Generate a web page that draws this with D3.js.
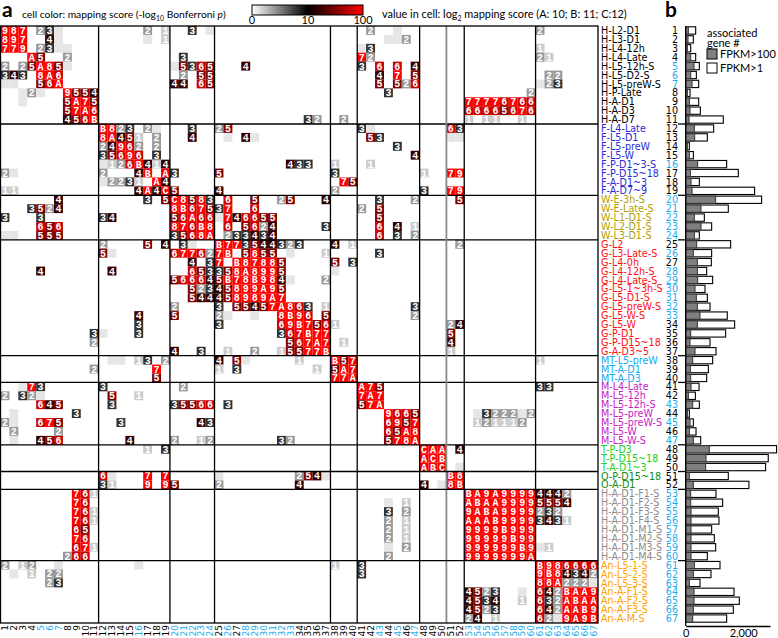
<!DOCTYPE html>
<html>
<head>
<meta charset="utf-8">
<script src="https://cdn.jsdelivr.net/npm/d3@7"></script>
<style>
  body { margin: 0; background: #fff; }
  svg { display: block; }
</style>
</head>
<body>
<div id="chart"></div>
<script>
// row / column names (same order on both axes)
const rowLabels = [
  "H-L2-D1","H-L3-D1","H-L4-12h","H-L4-Late","H-L5-12h-S","H-L5-D2-S","H-L5-preW-S","H-P-Late","H-A-D1","H-A-D3","H-A-D7",
  "F-L4-Late","F-L5-D1","F-L5-preW","F-L5-W","F-P-D1~3-S","F-P-D15~18","F-A-D1~3","F-A-D7~9",
  "W-E-3h-S","W-E-Late-S","W-L1-D1-S","W-L2-D1-S","W-L3-D1-S",
  "G-L2","G-L3-Late-S","G-L4-0h","G-L4-12h-S","G-L4-Late-S","G-L5-1~3h-S","G-L5-D1-S","G-L5-preW-S","G-L5-W-S","G-L5-W","G-P-D1","G-P-D15~18","G-A-D3~5",
  "MT-L5-preW","MT-A-D1","MT-A-D3",
  "M-L4-Late","M-L5-12h","M-L5-12h-S","M-L5-preW","M-L5-preW-S","M-L5-W","M-L5-W-S",
  "T-P-D3","T-P-D15~18","T-A-D1~3",
  "O-P-D15~18","O-A-D1",
  "H-A-D1-F1-S","H-A-D1-F2-S","H-A-D1-F3-S","H-A-D1-F4-S","H-A-D1-M1-S","H-A-D1-M2-S","H-A-D1-M3-S","H-A-D1-M4-S",
  "An-L5-1-S","An-L5-2-S","An-L5-3-S","An-A-F1-S","An-A-F2-S","An-A-F3-S","An-A-M-S"
];
const groupSizes  = [11, 8, 5, 13, 3, 7, 3, 2, 8, 7];
const groupColors = ["#000000","#2b2bd6","#b3a000","#ff1010","#18a8ee","#c820c8","#22d022","#128a12","#8c8c8c","#ffa200"];
// ids printed in light blue
const blueIds = [5,6,7,16,20,21,22,23,24,26,28,29,30,31,32,33,43,45,47,53,54,55,56,57,58,59,60,61,62,63,64,65,66,67];

// value in cell, per row: "col:log2 score" (A=10, B=11, C=12, "." = faint, no label)
const cellValues = [
  "1:9 2:8 3:7 5:2 6:3 7:. 17:2 19:1 22:3 24:. 42:2 45:. 61:2",
  "1:8 2:9 3:7 6:4 7:. 17:. 19:1 44:. 45:. 46:2",
  "1:7 2:7 3:9 5:2 6:3 7:. 8:. 41:. 42:3 61:1",
  "4:A 5:5 8:2 21:3 41:7 42:2 61:2 62:1",
  "1:2 3:2 4:5 5:A 6:8 7:5 8:. 20:. 21:5 22:3 23:6 24:5 28:4 41:3 43:6 45:6 47:4",
  "1:3 2:4 3:3 5:8 6:A 7:6 21:2 23:5 24:5 43:4 45:7 47:5 62:2 63:2",
  "1:. 2:. 5:5 6:6 7:A 20:4 21:4 23:6 24:5 43:5 45:5 46:2 47:6 61:. 62:2 63:3",
  "3:. 4:2 5:. 8:9 9:5 10:5 11:4 44:3 60:2",
  "3:. 8:5 9:A 10:7 11:5 53:7 54:7 55:7 56:7 57:6 58:7 59:6 60:6",
  "8:5 9:7 10:A 11:6 53:6 54:6 55:6 56:6 57:5 58:6 59:7 60:6",
  "8:4 9:5 10:6 11:B 35:3 36:2 39:2 53:1 55:1 56:1 59:1",
  "12:B 13:8 14:2 15:3 17:2 18:. 22:3 25:2 26:5 41:3 42:. 51:6 52:3",
  "12:8 13:A 14:4 15:5 16:1 18:2 22:4 26:. 28:4 29:. 42:5 43:3 51:. 52:.",
  "12:2 13:4 14:9 15:6 16:2 18:2 45:3",
  "12:3 13:5 14:6 15:9 16:6 18:3 47:4",
  "12:. 13:1 14:2 15:6 16:B 17:4 18:1 19:4 33:4 34:3 35:3 38:1 42:1",
  "1:2 2:. 12:2 16:4 17:B 19:A 20:3 25:5 38:3 48:1 51:7 52:9",
  "12:. 13:2 14:2 15:3 16:1 18:A 19:4 39:7 40:5",
  "1:1 2:1 16:4 17:A 18:4 19:C 20:5 25:4 38:2 48:3 51:7 52:9",
  "7:4 17:3 19:5 20:C 21:8 22:5 23:8 24:3 26:6 29:5 32:2 33:5 37:4 43:3 47:2 52:5",
  "4:3 5:5 6:2 7:4 20:8 21:B 22:6 23:7 24:5 25:3 26:7 29:6 41:2 43:5",
  "1:3 5:3 12:3 13:4 20:5 21:6 22:A 23:6 24:6 25:. 26:7 27:4 28:6 29:6 30:5 31:5 43:5",
  "5:6 6:5 7:6 20:8 21:7 22:6 23:B 24:8 26:6 28:5 29:6 30:2 31:4 37:3 43:6 45:4 47:1",
  "1:. 2:. 5:5 6:5 7:5 20:3 21:5 22:6 23:8 24:A 26:2 27:3 28:3 29:4 30:3 31:4 43:6 45:3 47:2",
  "12:2 17:5 19:4 21:3 22:. 25:B 26:7 27:7 28:3 29:5 30:4 31:4 32:3 33:2 34:3 38:4 40:1 52:2",
  "12:5 13:. 20:6 21:7 22:7 23:6 24:2 25:7 26:B 28:5 29:8 30:5 31:5 33:. 37:1 43:3",
  "22:4 24:3 25:7 27:B 28:8 29:7 30:8 31:8 32:5 38:5 40:3",
  "5:4 13:4 22:6 23:5 24:3 25:3 26:5 27:8 28:A 29:8 30:9 31:9 32:5 38:.",
  "20:5 21:6 22:6 23:6 24:4 25:5 26:B 27:7 28:8 29:B 30:9 31:8 32:4 33:. 37:2",
  "22:5 23:2 24:3 25:4 26:5 27:8 28:9 29:9 30:A 31:9 32:5",
  "22:5 23:4 24:4 25:4 26:5 27:8 28:9 29:8 30:9 31:A 32:7",
  "20:2 25:3 27:5 28:5 29:4 30:5 31:7 32:A 33:8 34:6 35:3 37:1 47:3",
  "16:4 20:5 25:2 26:. 29:. 32:8 33:B 34:9 35:6 37:5 47:2",
  "16:3 25:3 32:6 33:9 34:B 35:7 36:5 37:6 38:1 51:2 52:4",
  "11:3 12:. 16:3 32:3 33:6 34:7 35:B 36:7 37:7 51:5",
  "11:2 33:5 34:6 35:7 36:A 37:7 39:1 51:4",
  "20:4 23:3 26:1 29:2 32:1 33:5 34:5 35:7 36:7 37:B 51:1",
  "13:. 14:. 16:1 17:3 19:2 25:4 27:5 28:. 34:1 38:B 39:5 40:7 61:1",
  "11:2 18:7 25:1 27:3 36:1 38:5 39:A 40:7",
  "18:5 38:7 39:7 40:A",
  "3:. 4:7 5:3 12:3 21:2 41:A 42:7 43:5 61:3 62:3",
  "1:2 3:3 4:2 5:. 13:5 16:1 41:7 42:A 43:7",
  "5:6 6:4 7:5 13:3 20:3 21:5 22:5 23:6 24:6 26:3 41:5 42:7 43:A",
  "2:. 9:3 44:9 45:6 46:6 47:5 54:. 55:3 56:2 57:2 58:2 59:. 60:2",
  "1:2 2:. 5:6 6:7 7:5 14:3 23:4 24:3 44:6 45:9 46:5 47:7 54:1 55:2 56:1 57:1 58:1 59:2",
  "2:2 7:2 44:6 45:5 46:A 47:8",
  "2:. 5:4 6:5 7:6 15:4 20:2 23:1 24:2 32:3 33:2 44:5 45:7 46:8 47:A",
  "17:1 19:3 48:C 49:A 50:A 52:4",
  "48:A 49:C 50:B",
  "48:A 49:B 50:C 52:.",
  "12:6 13:. 17:7 19:7 25:. 34:2 35:5 36:4 37:. 51:B 52:8",
  "12:3 13:1 17:9 19:9 20:5 25:2 34:4 48:4 50:. 51:8 52:B",
  "9:7 10:6 11:1 53:B 54:A 55:9 56:A 57:9 58:9 59:9 60:9 61:4 62:4 63:4 64:2",
  "9:7 10:6 44:. 46:1 53:A 54:B 55:A 56:A 57:9 58:9 59:9 60:9 61:5 62:5 63:5 64:4",
  "9:7 10:6 11:1 44:3 46:2 53:9 54:A 55:B 56:A 57:9 58:9 59:9 60:9 61:2 62:3 63:2",
  "9:7 10:6 11:1 44:2 46:1 53:A 54:A 55:A 56:B 57:9 58:9 59:9 60:9 61:3 62:4 63:3 64:1",
  "9:6 10:5 44:2 46:1 53:9 54:9 55:9 56:9 57:B 58:9 59:9 60:9",
  "9:7 10:6 44:2 46:1 53:9 54:9 55:9 56:9 57:9 58:B 59:9 60:9",
  "9:6 10:7 11:1 44:. 46:2 53:9 54:9 55:9 56:9 57:9 58:9 59:B 60:9 61:. 62:1",
  "8:2 9:6 10:6 44:2 53:9 54:9 55:9 56:9 57:9 58:9 59:9 60:A",
  "1:2 3:1 4:2 7:. 16:. 38:1 41:3 61:B 62:9 63:8 64:6 65:6 66:6 67:6",
  "2:. 4:1 6:2 7:2 41:3 61:9 62:B 63:8 64:4 65:3 66:4 67:2",
  "6:2 7:3 61:8 62:8 63:A 64:2 65:2 66:2 67:.",
  "53:4 54:5 55:2 56:3 59:. 61:6 62:4 63:2 64:B 65:A 66:A 67:9",
  "53:4 54:5 55:3 56:4 59:1 61:6 62:3 63:2 64:A 65:B 66:A 67:A",
  "53:4 54:5 55:2 56:3 61:6 62:4 63:2 64:A 65:A 66:B 67:9",
  "53:2 54:4 56:1 61:6 62:2 63:. 64:9 65:A 66:9 67:B"
];

// panel b: associated gene numbers
const genesFpkm100 = [93,81,58,174,289,174,220,58,127,150,116, 301,312,58,127,416,162,185,220,
  1041,532,301,532,301, 382,266,405,405,416,324,370,405,497,405,174,150,324,
  243,162,174, 185,93,243,58,150,127,266, 821,706,694, 127,266,
  174,174,185,185,185,185,185,185, 301,266,127,289,289,266,243];
const genesFpkm1 = [347,266,174,347,474,370,451,150,451,509,1307, 972,752,127,266,1423,1828,474,2395,
  2638,1481,648,902,474, 1562,902,891,729,937,671,752,845,1446,1701,1388,845,1053,
  937,787,729, 463,336,474,127,266,359,521, 3159,2869,2777, 1481,2198,
  1053,1284,1134,1157,902,995,1041,752, 1192,879,497,1678,1863,1655,1423];
const barTicks = [0, 2000];
const legendTicks = [0, 10, 100];

const W = 778, H = 638;
const font = "Lato, 'Liberation Sans', sans-serif";
const labelFont = "'DejaVu Sans', sans-serif";
const svg = d3.select("#chart").append("svg")
    .attr("width", W).attr("height", H)
    .attr("viewBox", [0, 0, W, H])
    .style("font-family", font);

const ids = d3.range(1, rowLabels.length + 1);
const x = d3.scaleBand().domain(ids).range([0.5, 598]);
const y = d3.scaleBand().domain(ids).range([26, 623]);

// group of each id, boundaries
const groupOf = [];
groupSizes.forEach((n, g) => { for (let i = 0; i < n; i++) groupOf.push(g); });
const bounds = d3.cumsum(groupSizes).slice(0, -1);

// colour: score = 2^v ; 0..10 white->black, 10..100 black->red
const lowColor = d3.scaleLinear().domain([0, 10]).range(["#ffffff", "#000000"]);
const highColor = d3.scaleLog().domain([10, 100]).range(["#000000", "#ff0000"]).clamp(true);
const cellColor = s => s <= 10 ? lowColor(s) : highColor(s);

const digit = { A: 10, B: 11, C: 12 };
const cells = [];
cellValues.forEach((str, i) => {
  str.split(" ").forEach(tok => {
    const [c, v] = tok.split(":");
    const val = v === "." ? 0 : (digit[v] !== undefined ? digit[v] : +v);
    cells.push({ row: i + 1, col: +c, v: val, label: v === "." ? "" : v });
  });
});

// cells
const cg = svg.append("g");
cg.selectAll("rect").data(cells).join("rect")
    .attr("x", d => x(d.col))
    .attr("y", d => y(d.row))
    .attr("width", x.bandwidth())
    .attr("height", y.bandwidth())
    .attr("fill", d => cellColor(Math.pow(2, d.v)));
cg.selectAll("text").data(cells.filter(d => d.label)).join("text")
    .attr("x", d => x(d.col) + x.bandwidth() / 2)
    .attr("y", d => y(d.row) + y.bandwidth() / 2 + 3.5)
    .attr("text-anchor", "middle")
    .attr("fill", "#fff")
    .attr("font-family", "'Liberation Mono', 'DejaVu Sans Mono', monospace")
    .attr("font-weight", "bold")
    .attr("font-size", 10)
    .text(d => d.label);

// group lines
const lg = svg.append("g").attr("fill", "none");
bounds.forEach(b => {
  const px = x(b) + x.bandwidth();
  const py = y(b) + y.bandwidth();
  lg.append("line").attr("x1", px).attr("x2", px).attr("y1", y.range()[0]).attr("y2", y.range()[1])
    .attr("stroke", b === 50 ? "#8a8a8a" : "#000").attr("stroke-width", b === 50 ? 1.8 : 1.3);
  lg.append("line").attr("x1", x.range()[0]).attr("x2", x.range()[1]).attr("y1", py).attr("y2", py)
    .attr("stroke", "#000").attr("stroke-width", 1.3);
  lg.append("line").attr("x1", 678).attr("x2", 686).attr("y1", py).attr("y2", py)
    .attr("stroke", "#000").attr("stroke-width", 1.3);
});
lg.append("rect").attr("x", x.range()[0]).attr("y", y.range()[0])
    .attr("width", x.range()[1] - x.range()[0]).attr("height", y.range()[1] - y.range()[0])
    .attr("stroke", "#000").attr("stroke-width", 1.3);

// row labels and numbers
svg.append("g").attr("font-family", labelFont).attr("font-size", 9.6)
  .selectAll("text").data(ids).join("text")
    .attr("x", 601)
    .attr("y", d => y(d) + y.bandwidth() / 2 + 3.6)
    .attr("fill", d => groupColors[groupOf[d - 1]])
    .text(d => rowLabels[d - 1]);
svg.append("g").attr("font-family", labelFont).attr("font-size", 9.6)
  .selectAll("text").data(ids).join("text")
    .attr("x", 678)
    .attr("y", d => y(d) + y.bandwidth() / 2 + 3.6)
    .attr("text-anchor", "end")
    .attr("fill", d => blueIds.includes(d) ? "#1aaef0" : "#000")
    .text(d => d);

// column numbers
svg.append("g").attr("font-family", labelFont).attr("font-size", 9)
  .selectAll("text").data(ids).join("text")
    .attr("transform", d => `translate(${x(d) + x.bandwidth() / 2 + 3.3},625) rotate(-90)`)
    .attr("text-anchor", "end")
    .attr("fill", d => blueIds.includes(d) ? "#1aaef0" : "#000")
    .text(d => d);

// panel b bars
const xb = d3.scaleLinear().domain([0, 2930]).range([685.7, 770]);
const yb = d3.scaleBand().domain(ids).range(y.range()).paddingInner(0.18).paddingOuter(0.09);
const bg = svg.append("g");
bg.selectAll(".w").data(ids).join("rect").attr("class", "w")
    .attr("x", xb(0)).attr("y", d => yb(d))
    .attr("width", d => xb(genesFpkm1[d - 1]) - xb(0)).attr("height", yb.bandwidth())
    .attr("fill", "#fff").attr("stroke", "#000").attr("stroke-width", 1.1);
bg.selectAll(".g").data(ids).join("rect").attr("class", "g")
    .attr("x", xb(0)).attr("y", d => yb(d))
    .attr("width", d => xb(genesFpkm100[d - 1]) - xb(0)).attr("height", yb.bandwidth())
    .attr("fill", "#7f7f7f").attr("stroke", "#333").attr("stroke-width", 1);
svg.append("line").attr("x1", xb(0)).attr("x2", xb(0)).attr("y1", 26).attr("y2", 626)
    .attr("stroke", "#000").attr("stroke-width", 1.3);
svg.append("g").attr("transform", "translate(0,626)")
    .call(d3.axisBottom(xb).tickValues(barTicks).tickFormat(d3.format(",")).tickSize(0).tickPadding(3))
    .call(g => g.select(".domain").attr("stroke-width", 1.3))
    .call(g => g.selectAll("text").attr("font-size", 11).attr("font-family", font));

// panel b legend
const lb = svg.append("g").attr("font-size", 11);
lb.append("text").attr("x", 707).attr("y", 37).text("associated");
lb.append("text").attr("x", 707).attr("y", 47).text("gene #");
[["#7f7f7f", "FPKM>100", 49], ["#fff", "FPKM>1", 63]].forEach(([c, t, yy]) => {
  lb.append("rect").attr("x", 707).attr("y", yy).attr("width", 10).attr("height", 10)
    .attr("fill", c).attr("stroke", "#000");
  lb.append("text").attr("x", 720).attr("y", yy + 9).text(t);
});

// panel titles
svg.append("text").attr("x", 2).attr("y", 17).attr("font-size", 21).attr("font-weight", "bold").text("a");
svg.append("text").attr("x", 665).attr("y", 17).attr("font-size", 21).attr("font-weight", "bold").text("b");

const t1 = svg.append("text").attr("x", 22).attr("y", 18).attr("font-size", 10.3);
t1.append("tspan").text("cell color: mapping score (-log");
t1.append("tspan").attr("font-size", 7).attr("dy", 3).text("10");
t1.append("tspan").attr("dy", -3).text(" Bonferroni ");
t1.append("tspan").attr("font-style", "italic").text("p");
t1.append("tspan").text(")");

const t2 = svg.append("text").attr("x", 382).attr("y", 18).attr("font-size", 10.9);
t2.append("tspan").text("value in cell: log");
t2.append("tspan").attr("font-size", 7).attr("dy", 3).text("2");
t2.append("tspan").attr("dy", -3).text(" mapping score (A: 10; B: 11; C:12)");

// colour legend
const defs = svg.append("defs");
const grad = defs.append("linearGradient").attr("id", "cbar");
grad.append("stop").attr("offset", "0%").attr("stop-color", "#fff");
grad.append("stop").attr("offset", "50%").attr("stop-color", "#000");
grad.append("stop").attr("offset", "100%").attr("stop-color", "#f00");
const lx = d3.scaleLinear().domain([0, 10, 100]).range([252, 308, 363]);
svg.append("rect").attr("x", lx(0)).attr("y", 5).attr("width", lx(100) - lx(0)).attr("height", 10)
    .attr("fill", "url(#cbar)").attr("stroke", "#000").attr("stroke-width", 1);
svg.append("g").selectAll("text").data(legendTicks).join("text")
    .attr("x", d => lx(d)).attr("y", 24).attr("text-anchor", "middle").attr("font-size", 11)
    .text(d => d);
</script>
</body>
</html>
